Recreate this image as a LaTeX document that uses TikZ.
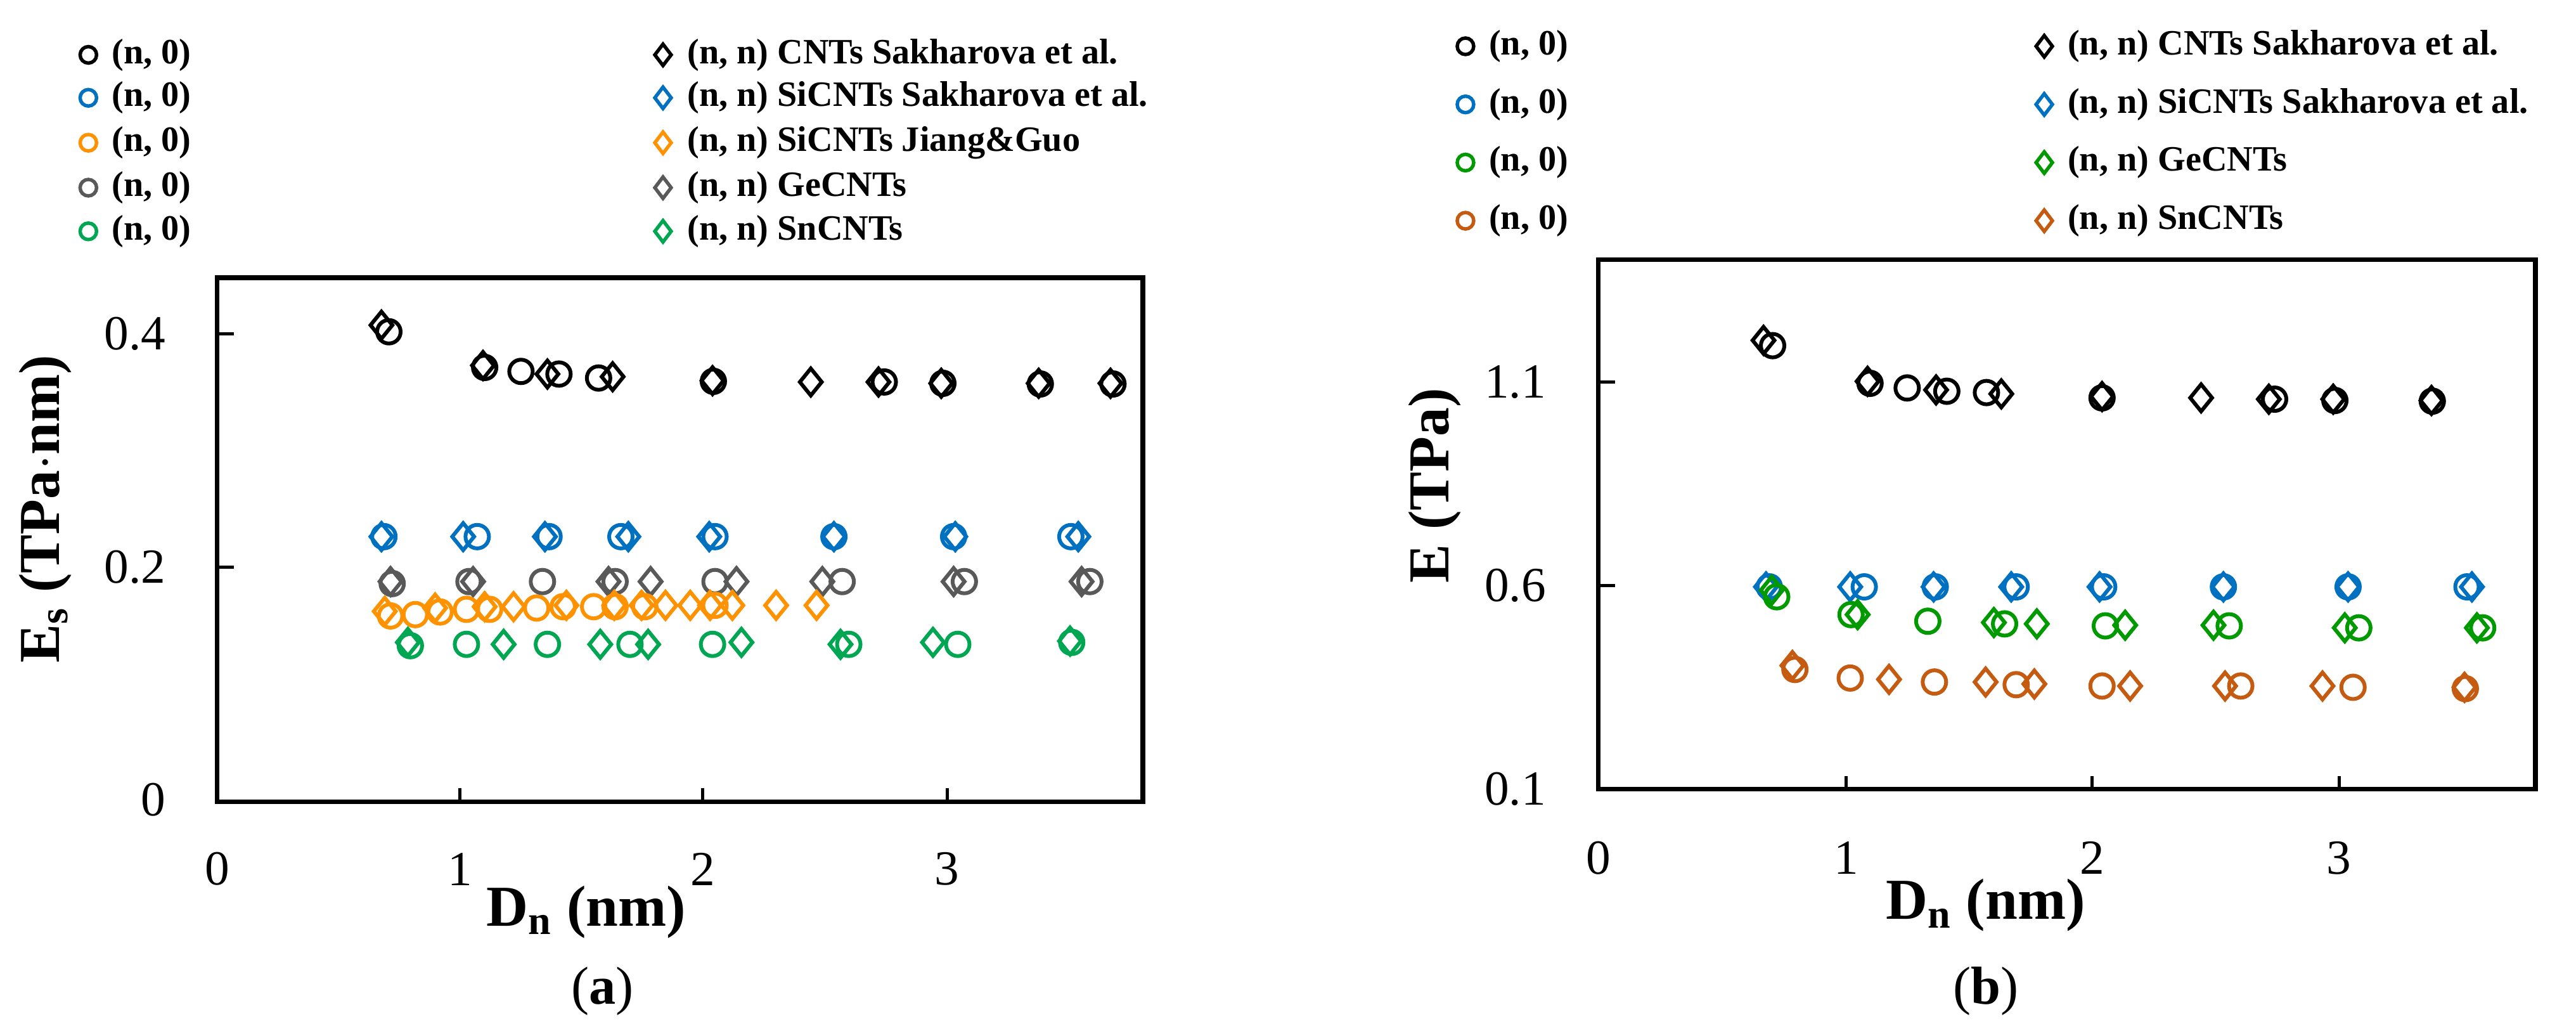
\documentclass[tikz,border=0pt]{standalone}
\usepackage{fontspec}
\setmainfont{Liberation Serif}
\usetikzlibrary{shapes.geometric}
\definecolor{cblue}{RGB}{0,112,192}
\definecolor{corange}{RGB}{255,146,0}
\definecolor{cgray}{RGB}{89,89,89}
\definecolor{cgreen}{RGB}{0,166,81}
\definecolor{cgreenb}{RGB}{0,153,0}
\definecolor{cred}{RGB}{197,90,17}
\begin{document}
\begin{tikzpicture}[x=0.13026mm,y=-0.10423mm,
  circ/.style={circle,draw=#1,line width=0.6mm,minimum size=3.7mm,inner sep=0pt},
  dia/.style={diamond,draw=#1,line width=0.6mm,minimum width=3.7mm,minimum height=4.5mm,inner sep=0pt},
  lcirc/.style={circle,draw=#1,line width=0.55mm,minimum size=2.6mm,inner sep=0pt},
  ldia/.style={diamond,draw=#1,line width=0.55mm,minimum width=2.8mm,minimum height=3.6mm,inner sep=0pt},
  leg/.style={anchor=west,font=\bfseries\fontsize{16}{16}\selectfont,inner sep=0pt},
  tick/.style={font=\fontsize{22}{22}\selectfont},
  axl/.style={font=\bfseries\fontsize{26}{26}\selectfont},
  frame/.style={line width=0.75mm}]
\useasboundingbox (0,0) rectangle (3120,1560);
% ---------- (a) ----------
\foreach \c/\y/\k in {black/83/1,cblue/148/2,corange/216/3,cgray/284/4,cgreen/350/5}{
  \node[lcirc=\c] (la\k) at (107,\y) {};
  \node[leg] (lta\k) at (135,\y) {(n, 0)};}
\node[ldia=black] (da1) at (803,83) {};\node[leg] (dta1) at (832,83) {(n, n) CNTs Sakharova et al.};
\node[ldia=cblue] (da2) at (803,148) {};\node[leg] (dta2) at (832,148) {(n, n) SiCNTs Sakharova et al.};
\node[ldia=corange] (da3) at (803,216) {};\node[leg] (dta3) at (832,216) {(n, n) SiCNTs Jiang\&Guo};
\node[ldia=cgray] (da4) at (803,284) {};\node[leg] (dta4) at (832,284) {(n, n) GeCNTs};
\node[ldia=cgreen] (da5) at (803,350) {};\node[leg] (dta5) at (832,350) {(n, n) SnCNTs};
\draw[frame] (263,420) rectangle (1384,1213);
\foreach \x in {557,851,1147} \draw[line width=0.5mm] (\x,1213) -- (\x,1193);
\foreach \y in {858,505} \draw[line width=0.5mm] (263,\y) -- (283,\y);
\node[tick] (xa0) at (263,1315) {0};
\node[tick] (xa1) at (557,1315) {1};
\node[tick] (xa2) at (851,1315) {2};
\node[tick] (xa3) at (1147,1315) {3};
\node[tick,anchor=east] (ya0) at (210,1210) {0};
\node[tick,anchor=east] (ya2) at (210,858) {0.2};
\node[tick,anchor=east] (ya4) at (210,505) {0.4};
\node[axl] (xla) at (710,1380) {D\textsubscript{n} (nm)};
\node[axl,rotate=90] (yla) at (55,770) {E\textsubscript{s} (TPa$\cdot$nm)};
\node[font=\fontsize{24}{24}\selectfont] (capa) at (730,1500) {(\textbf{a})};
\foreach \x/\y in {462/492,585/553,663/566,742/570,863/576,982/578,1064/578,1140/580,1258/580,1345/580} \node[dia=black] at (\x,\y) {};
\foreach \x/\y in {471/502,587/556,631/562,677/566,725/572,864/577,1071/578,1142/580,1260/581,1348/581} \node[circ=black] at (\x,\y) {};
\foreach \x in {462,561,660,761,859,1010,1157,1306} \node[dia=cblue] at (\x,812) {};
\foreach \x in {465,578,665,752,866,1010,1155,1297} \node[circ=cblue] at (\x,812) {};
\foreach \x in {473,573,737,788,892,996,1155,1310} \node[dia=cgray] at (\x,880) {};
\foreach \x/\y in {475/883,568/880,657/880,745/880,866/880,1020/880,1168/880,1320/880} \node[circ=cgray] at (\x,\y) {};
\foreach \x/\y in {466/925,527/920,587/918,622/918,686/916,744/916,777/916,806/916,836/916,860/916,887/916,940/916,989/916} \node[dia=corange] at (\x,\y) {};
\foreach \x/\y in {473/932,503/930,533/926,565/922,593/922,650/920,682/918,719/918,745/918,781/918,866/916} \node[circ=corange] at (\x,\y) {};
\foreach \x/\y in {494/972,610/975,727/975,785/975,898/972,1018/975,1130/972,1296/970} \node[dia=cgreen] at (\x,\y) {};
\foreach \x/\y in {497/977,565/975,663/975,763/975,863/975,1028/975,1160/975,1298/972} \node[circ=cgreen] at (\x,\y) {};
% ---------- (b) ----------
\begin{scope}[xshift=203.2mm]
\foreach \c/\y/\k in {black/70/1,cblue/158/2,cgreenb/246/3,cred/334/4}{
  \node[lcirc=\c] (lb\k) at (215,\y) {};
  \node[leg] (ltb\k) at (243,\y) {(n, 0)};}
\node[ldia=black] (db1) at (916,70) {};\node[leg] (dtb1) at (944,70) {(n, n) CNTs Sakharova et al.};
\node[ldia=cblue] (db2) at (916,158) {};\node[leg] (dtb2) at (944,158) {(n, n) SiCNTs Sakharova et al.};
\node[ldia=cgreenb] (db3) at (916,246) {};\node[leg] (dtb3) at (944,246) {(n, n) GeCNTs};
\node[ldia=cred] (db4) at (916,334) {};\node[leg] (dtb4) at (944,334) {(n, n) SnCNTs};
\draw[frame] (376,393) rectangle (1511,1194);
\foreach \x in {676,974,1273} \draw[line width=0.5mm] (\x,1194) -- (\x,1174);
\foreach \y in {578,886} \draw[line width=0.5mm] (376,\y) -- (396,\y);
\node[tick] (xb0) at (376,1298) {0};
\node[tick] (xb1) at (676,1298) {1};
\node[tick] (xb2) at (974,1298) {2};
\node[tick] (xb3) at (1273,1298) {3};
\node[tick,anchor=east] (yb1) at (322,1194) {0.1};
\node[tick,anchor=east] (yb6) at (322,886) {0.6};
\node[tick,anchor=east] (yb11) at (322,578) {1.1};
\node[axl] (xlb) at (845,1370) {D\textsubscript{n} (nm)};
\node[axl,rotate=90] (ylb) at (178,735) {E (TPa)};
\node[font=\fontsize{24}{24}\selectfont] (capb) at (845,1500) {(\textbf{b})};
\foreach \x/\y in {576/515,702/577,785/590,864/596,986/600,1106/602,1188/604,1266/604,1385/606} \node[dia=black] at (\x,\y) {};
\foreach \x/\y in {587/523,705/580,750/587,798/592,846/594,986/602,1195/604,1268/606,1386/607} \node[circ=black] at (\x,\y) {};
\foreach \x in {579,681,782,876,983,1133,1284,1434} \node[dia=cblue] at (\x,888) {};
\foreach \x in {583,698,784,882,988,1133,1284,1428} \node[circ=cblue] at (\x,888) {};
\foreach \x/\y in {586/893,690/930,855/942,907/944,1014/946,1121/946,1280/950,1440/950} \node[dia=cgreenb] at (\x,\y) {};
\foreach \x/\y in {592/903,682/930,775/940,868/944,990/947,1140/947,1297/950,1447/950} \node[circ=cgreenb] at (\x,\y) {};
\foreach \x/\y in {611/1007,728/1028,845/1032,904/1035,1020/1038,1135/1038,1253/1038,1425/1040} \node[dia=cred] at (\x,\y) {};
\foreach \x/\y in {614/1013,681/1026,783/1032,882/1036,986/1038,1154/1038,1290/1040,1426/1042} \node[circ=cred] at (\x,\y) {};
\end{scope}
\end{tikzpicture}
\end{document}
